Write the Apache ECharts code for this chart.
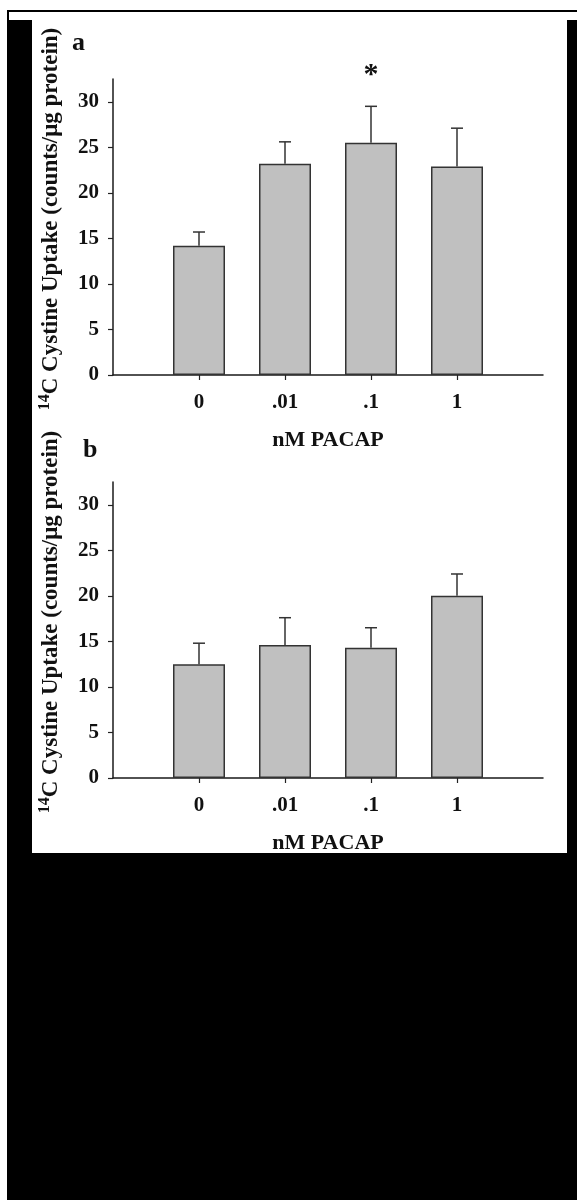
<!DOCTYPE html>
<html><head><meta charset="utf-8">
<script src="https://cdn.jsdelivr.net/npm/echarts@6/dist/echarts.min.js"></script>
<style>
body{margin:0;background:#fff;}
#frame{position:absolute;left:7px;top:10px;width:570px;height:1190px;background:#000;}
#strip{position:absolute;left:9px;top:12px;width:568px;height:8px;background:#fff;}
#panel{position:absolute;left:32px;top:20px;width:535px;height:833px;background:#fff;}
#chart{position:absolute;left:0;top:0;width:577px;height:1200px;}
</style></head><body>
<div id="frame"></div><div id="strip"></div><div id="panel"></div>
<div id="chart"></div>
<script>
const categories = ["0", ".01", ".1", "1"];
const uptakeA = [14.2, 23.2, 25.5, 22.9];
const errorA = [1.5, 2.4, 4.0, 4.2];
const significanceA = ["", "", "*", ""];
const uptakeB = [12.5, 14.6, 14.3, 20.0];
const errorB = [2.3, 3.0, 2.2, 2.4];
const significanceB = ["", "", "", ""];
const yTicks = [0, 5, 10, 15, 20, 25, 30];
const yMax = 32.5;
const panelLetters = ["a", "b"];
const xTitle = "nM PACAP";
const yTitleSup = "14";
const yTitleMain = "C Cystine Uptake (counts/\u03bcg protein)";

const FONT = "'Liberation Serif', serif";
const INK = '#111';
const padded = [""].concat(categories, [""]);

const panels = [
  {values: uptakeA, errors: errorA, sig: significanceA, top: 79, letter: panelLetters[0], lx: 72, ly: 30},
  {values: uptakeB, errors: errorB, sig: significanceB, top: 482, letter: panelLetters[1], lx: 83, ly: 437}
];

const grids = [], xAxes = [], yAxes = [], series = [], graphics = [];
panels.forEach((p, i) => {
  grids.push({left: 113, top: p.top, width: 430, height: 296});
  xAxes.push({
    type: 'category', gridIndex: i, data: padded, boundaryGap: false,
    axisLine: {lineStyle: {color: '#1a1a1a', width: 1.5}},
    axisTick: {interval: (idx) => idx > 0 && idx < padded.length - 1, length: 5, lineStyle: {color: '#222', width: 1.2}},
    axisLabel: {interval: 0, margin: 17, fontFamily: FONT, fontWeight: 'bold', fontSize: 21, color: INK},
    name: xTitle, nameLocation: 'middle', nameGap: 54,
    nameTextStyle: {fontFamily: FONT, fontWeight: 'bold', fontSize: 22, color: INK}
  });
  yAxes.push({
    type: 'value', gridIndex: i, min: 0, max: yMax,
    axisLine: {show: true, lineStyle: {color: '#1a1a1a', width: 1.5}},
    axisTick: {show: true, length: 5, customValues: yTicks, lineStyle: {color: '#222', width: 1.2}},
    axisLabel: {customValues: yTicks, margin: 14, fontFamily: FONT, fontWeight: 'bold', fontSize: 21, color: INK},
    splitLine: {show: false},
    name: '{sup|' + yTitleSup + '}{main|' + yTitleMain + '}',
    nameLocation: 'middle', nameRotate: 90, nameGap: 48,
    nameTextStyle: {
      fontFamily: FONT, fontWeight: 'bold', color: INK, padding: [0, 0, 0, 16],
      rich: {
        sup: {fontFamily: FONT, fontWeight: 'bold', fontSize: 16, lineHeight: 16, verticalAlign: 'top', color: INK},
        main: {fontFamily: FONT, fontWeight: 'bold', fontSize: 23, lineHeight: 28, color: INK}
      }
    }
  });
  series.push({
    type: 'bar', xAxisIndex: i, yAxisIndex: i, silent: true,
    data: [null].concat(p.values, [null]),
    barWidth: 52,
    itemStyle: {color: '#c0c0c0', borderColor: '#333', borderWidth: 1.5}
  });
  const sig = p.sig;
  series.push({
    type: 'custom', xAxisIndex: i, yAxisIndex: i, silent: true, z: 5,
    data: p.values.map((v, k) => [k + 1, v, p.errors[k], k]),
    renderItem: function (params, api) {
      const idx = api.value(0), v = api.value(1), e = api.value(2);
      const base = api.coord([idx, v]);
      const top = api.coord([idx, v + e]);
      const children = [
        {type: 'line', shape: {x1: base[0], y1: base[1], x2: base[0], y2: top[1]}, style: {stroke: '#333', lineWidth: 1.5}},
        {type: 'line', shape: {x1: base[0] - 6, y1: top[1], x2: base[0] + 6, y2: top[1]}, style: {stroke: '#333', lineWidth: 1.5}}
      ];
      const s = sig[api.value(3)];
      if (s) {
        children.push({type: 'text', x: base[0], y: top[1] - 31,
          style: {text: s, fontSize: 30, fontWeight: 'bold', fontFamily: FONT, fill: INK, align: 'center', verticalAlign: 'middle'}});
      }
      return {type: 'group', children: children};
    }
  });
  graphics.push({type: 'text', left: p.lx, top: p.ly,
    style: {text: p.letter, fontFamily: FONT, fontWeight: 'bold', fontSize: 26, fill: INK}});
});

const chart = echarts.init(document.getElementById('chart'), null, {renderer: 'canvas'});
chart.setOption({
  animation: false,
  grid: grids, xAxis: xAxes, yAxis: yAxes, series: series, graphic: graphics
});
</script>
</body></html>
